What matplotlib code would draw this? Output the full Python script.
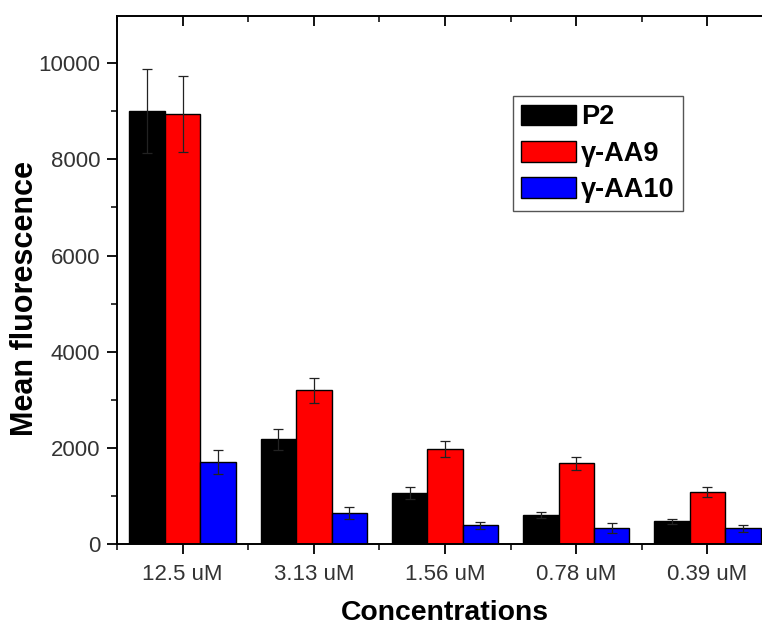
import numpy as np
import matplotlib
matplotlib.use("Agg")
from matplotlib import pyplot as plt
from matplotlib.ticker import MultipleLocator, FixedLocator

plt.rcParams['font.family'] = ['Liberation Sans', 'DejaVu Sans']

concentrations = ["12.5 uM", "3.13 uM", "1.56 uM", "0.78 uM", "0.39 uM"]
series_names = ["P2", "γ-AA9", "γ-AA10"]

p2 = [9000, 2180, 1060, 605, 475]
p2_err = [870, 215, 130, 70, 50]
aa9 = [8950, 3200, 1980, 1680, 1085]
aa9_err = [790, 260, 165, 140, 110]
aa10 = [1710, 645, 390, 330, 330]
aa10_err = [250, 125, 75, 100, 75]

colors = ["#000000", "#ff0000", "#0000ff"]

fig = plt.figure(figsize=(7.62, 6.29), dpi=100)
ax = fig.add_axes([0.1535, 0.135, 0.861, 0.8395])

x = np.arange(len(concentrations))
w = 0.27
for k, (vals, errs) in enumerate([(p2, p2_err), (aa9, aa9_err), (aa10, aa10_err)]):
    ax.bar(x + (k - 1) * w, vals, w, color=colors[k], edgecolor="black",
           linewidth=1.0, label=series_names[k], zorder=2)
    ax.errorbar(x + (k - 1) * w, vals, yerr=errs, fmt="none", ecolor="#222222",
                elinewidth=0.9, capsize=3.3, capthick=0.9, zorder=3)

ax.set_xlim(-0.5, 4.5)
ax.set_ylim(0, 10980)

ax.set_xticks(x)
ax.set_xticklabels(concentrations)
ax.xaxis.set_minor_locator(FixedLocator(np.arange(-0.5, 5, 1.0)))
ax.yaxis.set_major_locator(MultipleLocator(2000))
ax.yaxis.set_minor_locator(MultipleLocator(1000))

ax.tick_params(axis="both", which="major", labelsize=16, width=1.3, length=7,
               direction="out", colors="black", labelcolor="#333333")
ax.tick_params(axis="x", which="major", pad=7)
ax.tick_params(axis="y", which="major", pad=5)
ax.tick_params(axis="both", which="minor", width=1.1, length=4.5, direction="out")
ax.tick_params(top=True, right=True, which="both")

# top/right ticks point inward
for t in ax.xaxis.get_major_ticks() + ax.xaxis.get_minor_ticks():
    t.tick2line.set_marker(matplotlib.lines.TICKDOWN)
for t in ax.yaxis.get_major_ticks() + ax.yaxis.get_minor_ticks():
    t.tick2line.set_marker(matplotlib.lines.TICKLEFT)

for s in ax.spines.values():
    s.set_linewidth(1.4)

ax.set_xlabel("Concentrations", fontsize=20.4, fontweight="bold", labelpad=11)
ax.set_ylabel("Mean fluorescence", fontsize=22, fontweight="bold")
ax.yaxis.set_label_coords(-0.118, 0.466)

leg = ax.legend(loc="upper left", bbox_to_anchor=(0.604, 0.848),
                prop={"weight": "bold", "size": 19.5}, fancybox=False,
                edgecolor="#555555", framealpha=1, handlelength=2.0,
                handleheight=0.8, handletextpad=0.2, labelspacing=0.38,
                borderpad=0.3, borderaxespad=0)
leg.get_frame().set_linewidth(1.0)

fig.savefig("out.png", dpi=100)
